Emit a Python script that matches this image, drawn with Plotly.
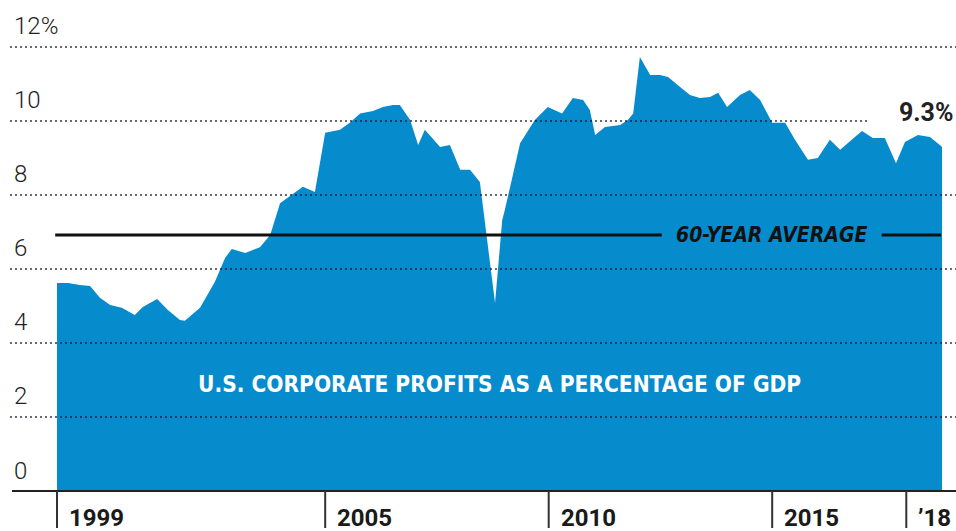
"""U.S. corporate profits as a percentage of GDP - area chart."""
import plotly.graph_objects as go

# decimal year and profit share (% of GDP)
years = [1999.00, 1999.25, 1999.51, 1999.74, 1999.96, 2000.19, 2000.45, 2000.74,
         2000.92, 2001.24, 2001.48, 2001.75, 2001.86, 2002.20, 2002.53, 2002.76,
         2002.91, 2003.21, 2003.54, 2003.77, 2003.99, 2004.50, 2004.77, 2005.00,
         2005.33, 2005.55, 2005.78, 2006.07, 2006.29, 2006.52, 2006.67, 2006.90,
         2007.08, 2007.23, 2007.57, 2007.79, 2008.02, 2008.24, 2008.46, 2008.58,
         2008.80, 2008.96, 2009.02, 2009.36, 2009.69, 2009.98, 2010.30, 2010.54,
         2010.77, 2010.92, 2011.04, 2011.26, 2011.60, 2011.77, 2011.89, 2012.04,
         2012.27, 2012.49, 2012.67, 2012.94, 2013.16, 2013.38, 2013.61, 2013.79,
         2013.99, 2014.28, 2014.50, 2014.73, 2015.00, 2015.29, 2015.51, 2015.80,
         2016.02, 2016.29, 2016.52, 2016.85, 2017.01, 2017.25, 2017.52, 2017.77,
         2017.97, 2018.26, 2018.53, 2018.75, 2018.80]
profits = [5.62, 5.62, 5.57, 5.54, 5.22, 5.03, 4.95, 4.76,
           4.97, 5.19, 4.89, 4.62, 4.60, 4.95, 5.65, 6.30,
           6.54, 6.43, 6.59, 6.92, 7.78, 8.22, 8.08, 9.68,
           9.76, 9.95, 10.20, 10.27, 10.38, 10.43, 10.43, 10.03,
           9.35, 9.76, 9.30, 9.35, 8.68, 8.68, 8.35, 7.24,
           5.08, 7.32, 7.60, 9.40, 10.03, 10.38, 10.20, 10.62,
           10.57, 10.30, 9.62, 9.84, 9.89, 10.03, 10.20, 11.73,
           11.24, 11.24, 11.19, 10.92, 10.70, 10.62, 10.65, 10.76,
           10.38, 10.70, 10.84, 10.57, 9.95, 9.95, 9.49, 8.95,
           9.00, 9.49, 9.22, 9.57, 9.73, 9.54, 9.54, 8.86,
           9.43, 9.62, 9.57, 9.35, 9.30]

grid_values = [2, 4, 6, 8, 10, 12]
grid_labels = ['2', '4', '6', '8', '10', '12%']
tick_years = [1999, 2005, 2010, 2015, 2018]
tick_labels = ['1999', '2005', '2010', '2015', '’18']
average_60yr = 6.92
latest_label = '9.3%'
title_text = 'U.S. CORPORATE PROFITS AS A PERCENTAGE OF GDP'

BLUE = '#068bcd'
X0, X1 = 1997.725, 2019.112   # pixel 0 .. 956
Y0, Y1 = -1.081, 13.27        # pixel 531 .. 0

fig = go.Figure()
fig.add_trace(go.Scatter(x=years, y=profits, mode='lines', fill='tozeroy',
                         fillcolor=BLUE, line=dict(width=0, color=BLUE),
                         hoverinfo='skip', showlegend=False))

dots = dict(color='rgba(10,10,40,0.62)', width=2, dash='2px,3px')
x_left = X0 + 10 / 956 * (X1 - X0)
for v, lab in zip(grid_values, grid_labels):
    # the 10% line stops short to leave room for the latest-value label
    x_right = 2017.15 if v == 10 else X1
    fig.add_shape(type='line', x0=x_left, x1=x_right, y0=v, y1=v,
                  xref='x', yref='y', line=dots, layer='above')
    fig.add_annotation(x=x_left + 0.04, y=v, text=lab, showarrow=False,
                       xanchor='left', yanchor='middle', yshift=21,
                       font=dict(family='Roboto', size=24, weight=300, color='#222'))
fig.add_annotation(x=x_left + 0.04, y=0, text='0', showarrow=False,
                   xanchor='left', yanchor='middle', yshift=20,
                   font=dict(family='Roboto', size=24, weight=300, color='#222'))

# baseline and year ticks
fig.add_shape(type='line', x0=X0 + 12 / 956 * (X1 - X0), x1=X1, y0=0, y1=0,
              xref='x', yref='y', line=dict(color='#222', width=2), layer='above')
for yr, lab in zip(tick_years, tick_labels):
    fig.add_shape(type='line', x0=yr, x1=yr, y0=0, y1=-1.0, xref='x', yref='y',
                  line=dict(color='#333', width=2))
    fig.add_annotation(x=yr, y=-0.72, text=f'<b>{lab}</b>', showarrow=False,
                       xanchor='left', yanchor='middle', xshift=10,
                       font=dict(family='Roboto', size=24, color='#1a1a1a'))

# 60-year average line with its label
avg_line = dict(color='#111', width=3)
fig.add_shape(type='line', x0=1998.96, x1=2012.53, y0=average_60yr, y1=average_60yr,
              xref='x', yref='y', line=avg_line, layer='above')
fig.add_shape(type='line', x0=2017.45, x1=2018.78, y0=average_60yr, y1=average_60yr,
              xref='x', yref='y', line=avg_line, layer='above')
fig.add_annotation(x=2014.99, y=average_60yr, text='60-YEAR AVERAGE', showarrow=False,
                   xanchor='center', yanchor='middle',
                   font=dict(family='DejaVu Sans Condensed', size=21, weight='bold',
                             style='italic', color='#111'))

fig.add_annotation(x=2019.1, y=10.22, text=f'<b>{latest_label}</b>', showarrow=False,
                   xanchor='right', yanchor='middle',
                   font=dict(family='Roboto', size=25, color='#222'))

fig.add_annotation(x=2008.9, y=2.9, text=title_text, showarrow=False,
                   xanchor='center', yanchor='middle',
                   font=dict(family='DejaVu Sans Condensed', size=22.5, weight='bold',
                             color='white'))

fig.update_xaxes(range=[X0, X1], visible=False, fixedrange=True)
fig.update_yaxes(range=[Y0, Y1], visible=False, fixedrange=True)
fig.update_layout(width=956, height=531, margin=dict(l=0, r=0, t=0, b=0),
                  plot_bgcolor='white', paper_bgcolor='white')

# drop the page's default body margin so the figure sits at the window corner
fig.write_html("out.html", config={'displayModeBar': False},
               post_script="document.body.style.margin='0';")
